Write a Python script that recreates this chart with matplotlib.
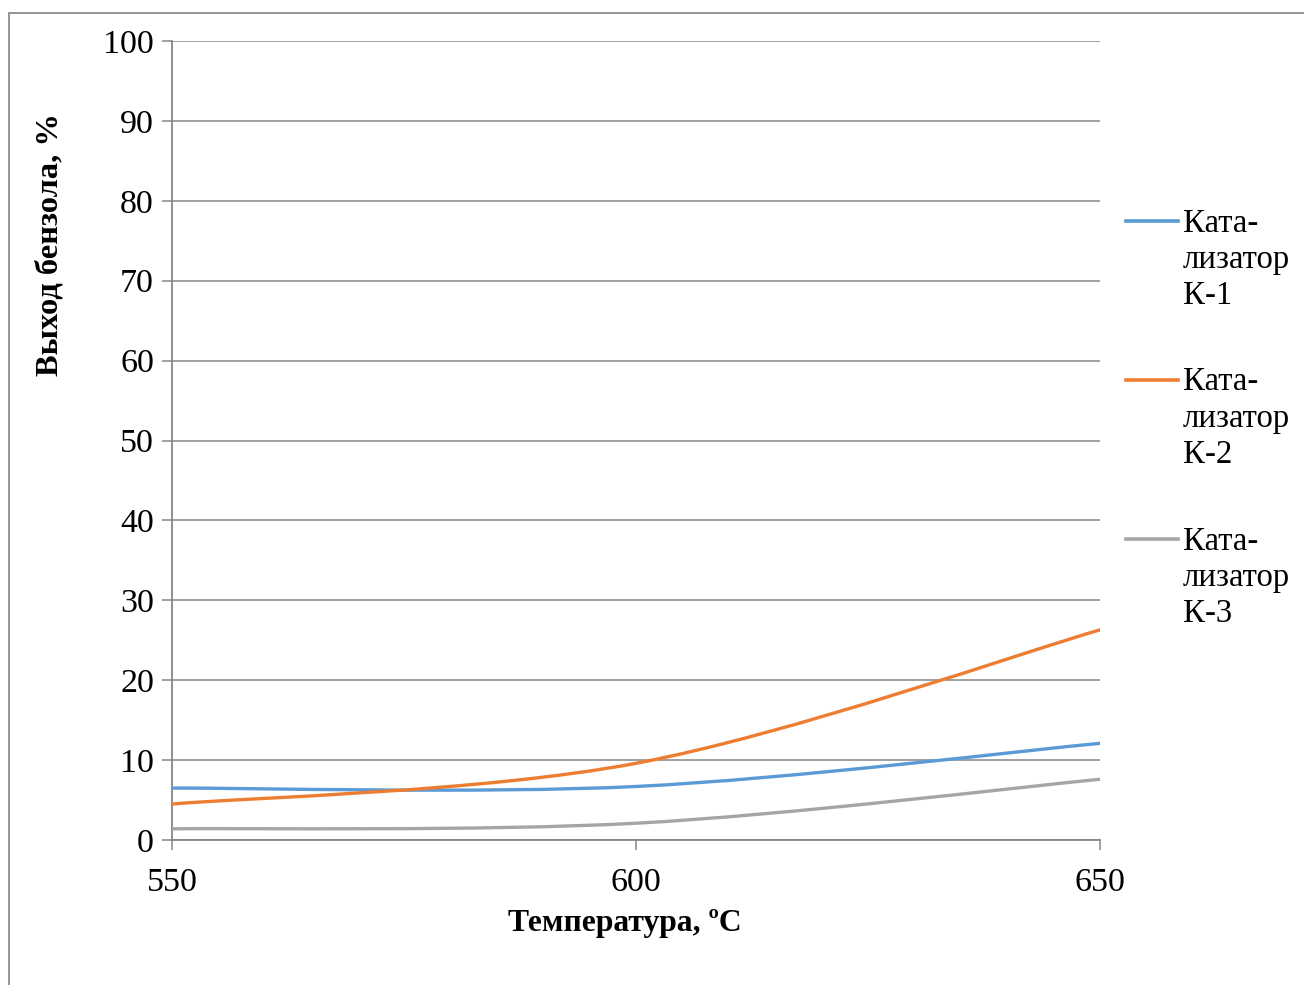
import matplotlib.pyplot as plt
from matplotlib.path import Path
from matplotlib.patches import PathPatch, Rectangle
from matplotlib.lines import Line2D

# data
temps = [550, 600, 650]
k1 = [6.5, 6.7, 12.1]
k2 = [4.5, 9.6, 26.3]
k3 = [1.4, 2.1, 7.6]
labels = ['Ката-\nлизатор\nК-1', 'Ката-\nлизатор\nК-2', 'Ката-\nлизатор\nК-3']
colors = ['#5B9BD5', '#ED7D31', '#A5A5A5']

plt.rcParams['font.family'] = ['Liberation Serif', 'DejaVu Serif']

W, H = 1304, 985
fig = plt.figure(figsize=(W / 100, H / 100), dpi=100)


def fx(px):
    return px / W


def fy(py):
    return 1 - py / H


ax = fig.add_axes([fx(172), fy(840), fx(1100) - fx(172), fy(41) - fy(840)])


def smooth_path(xs, ys):
    # excel-like smoothed line: bezier segments through the points
    pts = list(zip(xs, ys))
    n = len(pts)
    verts = [pts[0]]
    codes = [Path.MOVETO]
    for i in range(n - 1):
        p0 = pts[i - 1] if i > 0 else pts[i]
        p1 = pts[i]
        p2 = pts[i + 1]
        p3 = pts[i + 2] if i + 2 < n else pts[i + 1]
        c1 = (p1[0] + (p2[0] - p0[0]) / 6, p1[1] + (p2[1] - p0[1]) / 6)
        c2 = (p2[0] - (p3[0] - p1[0]) / 6, p2[1] - (p3[1] - p1[1]) / 6)
        verts += [c1, c2, p2]
        codes += [Path.CURVE4] * 3
    return Path(verts, codes)


for ys, c in zip([k1, k2, k3], colors):
    ax.add_patch(PathPatch(smooth_path(temps, ys), facecolor='none', edgecolor=c,
                           lw=2.4, capstyle='round', zorder=3))

ax.set_xlim(550, 650)
ax.set_ylim(0, 100)
ax.set_xticks(temps)
ax.set_yticks(range(0, 101, 10))
ax.yaxis.grid(True, color='#868686', lw=1.1)
for s in ['top', 'right']:
    ax.spines[s].set_visible(False)
for s in ['left', 'bottom']:
    ax.spines[s].set_color('#868686')
    ax.spines[s].set_linewidth(1.3)
ax.tick_params(axis='both', color='#868686', length=7, width=1.1, labelsize=24.5)
ax.tick_params(axis='y', pad=6)
ax.tick_params(axis='x', pad=13)

fig.text(fx(50), fy(245), 'Выход бензола, %', rotation=90, ha='center', va='center',
         fontsize=23.4, fontweight='bold')
fig.text(fx(625), fy(923), 'Температура, ºC', ha='center', va='center',
         fontsize=22.8, fontweight='bold')

# legend
for i, (lab, c) in enumerate(zip(labels, colors)):
    y0 = 221 + i * 159
    fig.add_artist(Line2D([fx(1126), fx(1178)], [fy(y0), fy(y0)], color=c, lw=2.6,
                          transform=fig.transFigure))
    fig.text(fx(1183), fy(y0 - 13), lab, ha='left', va='top', fontsize=23.6, linespacing=1.25)

# outer chart frame
fig.add_artist(Rectangle((fx(9), 0 - 0.05), 1.2, fy(13) + 0.05, transform=fig.transFigure,
                         facecolor='none', edgecolor='#8c8c8c', lw=1.3))

fig.savefig('out.png', dpi=100)
